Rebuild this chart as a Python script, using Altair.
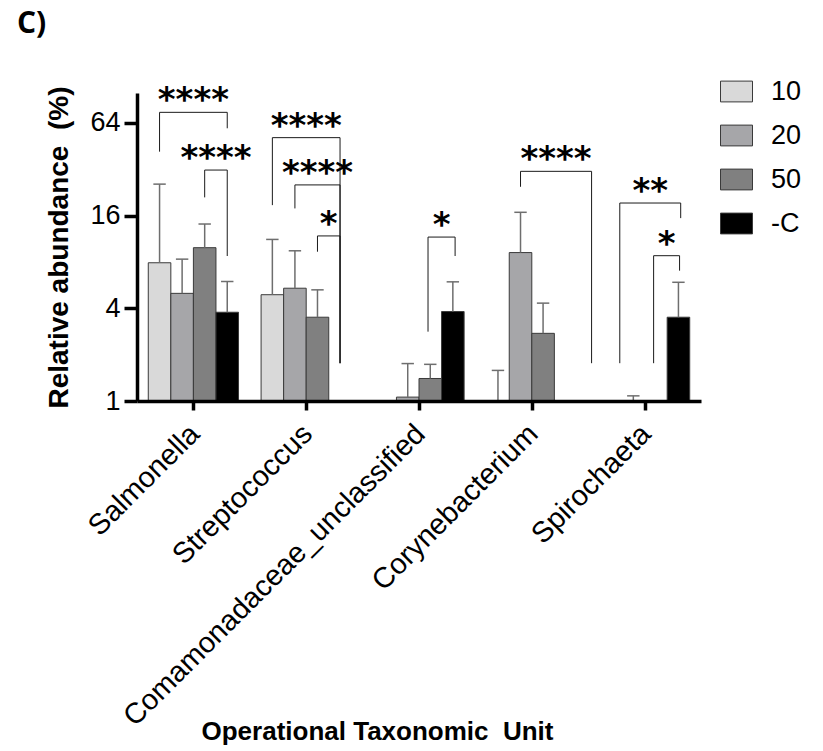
import altair as alt
import pandas as pd

# OTUs on the x axis and the four treatment groups
otus = ["Salmonella", "Streptococcus", "Comamonadaceae_unclassified",
        "Corynebacterium", "Spirochaeta"]
groups = ["10", "20", "50", "-C"]
group_colors = ["#d9d9d9", "#a6a6a9", "#808080", "#000000"]

# mean relative abundance (%) per OTU; None = not detected
mean_10 = [7.9, 4.9, None, 1.0, None]
mean_20 = [5.0, 5.4, 1.06, 9.2, 1.0]
mean_50 = [9.9, 3.5, 1.40, 2.75, None]
mean_c = [3.77, None, 3.81, None, 3.5]

# upper end of the error bar (mean + SD)
upper_10 = [25.6, 11.2, None, 1.58, None]
upper_20 = [8.34, 9.45, 1.75, 16.8, 1.08]
upper_50 = [14.1, 5.27, 1.73, 4.32, None]
upper_c = [5.97, None, 5.94, None, 5.9]

# significance brackets: OTU index, left/right leg offsets within the group,
# bracket top, left/right leg ends, and the star label
br_otu = [0, 0, 1, 1, 1, 2, 3, 4, 4]
br_left = [-0.30, 0.10, -0.30, -0.10, 0.10, 0.08, -0.10, -0.22, 0.08]
br_right = [0.30, 0.30, 0.30, 0.30, 0.30, 0.32, 0.53, 0.32, 0.31]
br_top = [74.9, 31.6, 51.3, 25.3, 11.8, 11.6, 31.0, 19.3, 8.78]
br_left_end = [41.6, 21.0, 18.7, 17.8, 9.32, 2.82, 24.6, 1.76, 1.76]
br_right_end = [59.0, 8.74, 1.76, 1.76, 1.76, 8.74, 1.76, 15.4, 7.02]
br_label = ["****", "****", "****", "****", "*", "*", "****", "**", "*"]

rows = []
for g_i, (g, means, uppers) in enumerate(zip(
        groups, [mean_10, mean_20, mean_50, mean_c],
        [upper_10, upper_20, upper_50, upper_c])):
    for o_i, (otu, m, u) in enumerate(zip(otus, means, uppers)):
        if m is None:
            continue
        rows.append(dict(otu=otu, otu_idx=o_i, group=g, group_idx=g_i,
                         mean=m, upper=u))
bars_df = pd.DataFrame(rows)

brackets_df = pd.DataFrame(dict(
    otu_idx=br_otu, off_l=br_left, off_r=br_right, top=br_top,
    end_l=br_left_end, end_r=br_right_end, label=br_label))

FONT = "Liberation Sans"
NBSP = "\u00a0"

label_expr = "[" + ",".join(f"'{o}'" for o in otus) + "][datum.value]"
x_scale = alt.Scale(domain=[-0.5, 4.5], nice=False, zero=False)
y_scale = alt.Scale(type="log", base=2, domain=[1, 100], nice=False)

x_axis = alt.Axis(
    values=[0, 1, 2, 3, 4], labelExpr=label_expr, labelAngle=-45,
    labelFontSize=29, labelFont=FONT, labelColor="black", labelPadding=9,
    labelOffset=-9,
    labelOverlap=False, labelLimit=1000, labelBound=False,
    tickSize=9, tickWidth=3.5, tickColor="black",
    domainWidth=3.5, domainColor="black", grid=False, zindex=1,
    title=f"Operational Taxonomic {NBSP}Unit", titleFont=FONT,
    titleFontSize=26, titleFontWeight="bold", titleColor="black",
    titleX=240, titleY=338, titleBaseline="alphabetic",
)
y_axis = alt.Axis(
    values=[1, 4, 16, 64], format="d",
    labelFontSize=27, labelFont=FONT, labelColor="black", labelPadding=4,
    tickSize=13, tickWidth=3.5, tickColor="black",
    domainWidth=3.5, domainColor="black", grid=False, zindex=1,
    title=f"Relative abundance {NBSP}(%)", titleFont=FONT, titleFontSize=28,
    titleFontWeight="bold", titleColor="black", titlePadding=16,
)

bar_base = alt.Chart(bars_df).transform_calculate(
    xc="datum.otu_idx + (datum.group_idx - 1.5) * 0.2",
    xl="datum.xc - 0.1",
    xr="datum.xc + 0.1",
    cl="datum.xc - 0.055",
    cr="datum.xc + 0.055",
)

bars = bar_base.mark_bar(stroke="#3a3a3a", strokeWidth=1).encode(
    x=alt.X("xl:Q", scale=x_scale, axis=x_axis),
    x2="xr:Q",
    y=alt.Y("mean:Q", scale=y_scale, axis=y_axis),
    y2=alt.Y2Datum(1),
    color=alt.Color(
        "group:N", scale=alt.Scale(domain=groups, range=group_colors),
        legend=alt.Legend(
            title=None, orient="none", legendX=583, legendY=-18,
            symbolType="M-1,-0.65H1V0.65H-1Z", symbolSize=1024,
            symbolStrokeColor="#3a3a3a", symbolStrokeWidth=1,
            symbolOpacity=1, labelFont=FONT, labelFontSize=27,
            labelColor="black", labelOffset=18, rowPadding=14, padding=0,
        ),
    ),
)

err_style = dict(color="#6e6e6e", strokeWidth=1.5)
err_line = bar_base.transform_filter("datum.upper != null").mark_rule(**err_style).encode(
    x="xc:Q", y="mean:Q", y2="upper:Q")
err_cap = bar_base.transform_filter("datum.upper != null").mark_rule(**err_style).encode(
    x="cl:Q", x2="cr:Q", y="upper:Q")

br_base = alt.Chart(brackets_df).transform_calculate(
    xl="datum.otu_idx + datum.off_l",
    xr="datum.otu_idx + datum.off_r",
    xm="datum.otu_idx + (datum.off_l + datum.off_r) / 2",
)
br_style = dict(color="#1a1a1a", strokeWidth=1)
br_top_line = br_base.mark_rule(**br_style).encode(x="xl:Q", x2="xr:Q", y="top:Q")
br_left_leg = br_base.mark_rule(**br_style).encode(x="xl:Q", y="end_l:Q", y2="top:Q")
br_right_leg = br_base.mark_rule(**br_style).encode(x="xr:Q", y="end_r:Q", y2="top:Q")
br_text = br_base.mark_text(
    font="DejaVu Sans", fontWeight="bold", fontSize=34,
    baseline="alphabetic", align="center", dy=-1, color="black",
).encode(x="xm:Q", y="top:Q", text="label:N")

panel_tag = alt.Chart(pd.DataFrame({"tag": ["C)"]})).mark_text(
    font="Open Sans", fontWeight="bold", fontSize=30, align="left",
    baseline="alphabetic", color="black",
).encode(x=alt.value(-120), y=alt.value(-60), text="tag:N")

chart = alt.layer(
    bars, err_line, err_cap, br_top_line, br_left_leg, br_right_leg,
    br_text, panel_tag,
).properties(
    width=564, height=308,
    padding={"left": 137, "top": 93, "right": 122, "bottom": 350},
    autosize=alt.AutoSizeParams(type="none"),
    background="white",
).configure_view(stroke=None)

chart.save("out.html", embed_options={"renderer": "svg", "actions": False})
